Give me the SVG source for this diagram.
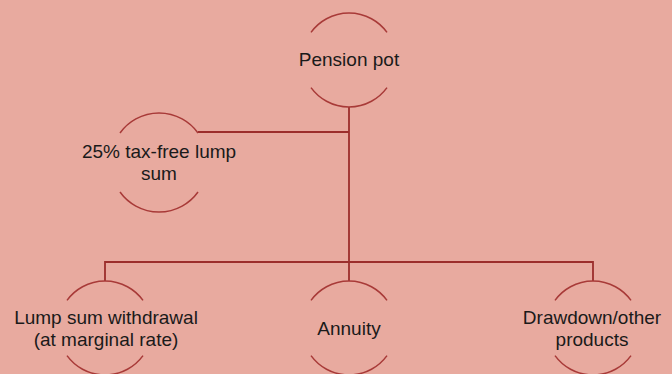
<svg xmlns="http://www.w3.org/2000/svg" width="672" height="374" viewBox="0 0 672 374">
<style>
.arc{fill:none;stroke:#A83A38;stroke-width:1.5}
.con{fill:none;stroke:#9C2E2C;stroke-width:1.8}
text{font-family:"Liberation Sans",Arial,sans-serif;font-size:19px;fill:#1a1a1a;text-anchor:middle}
</style>
<rect width="672" height="374" fill="#E8AA9F"/>
<g id="connectors">
<path class="con" d="M349 107 V262"/>
<path class="con" d="M198 132 H349"/>
<path class="con" d="M105 281 V262 H593 V281"/>
<path class="con" d="M349 262 V281"/>
</g>
<g id="pension-pot">
<path class="arc" d="M311 32.4 A47 47 0 0 1 387 32.4"/>
<path class="arc" d="M311 87.6 A47 47 0 0 0 387 87.6"/>
<text x="349" y="65.5">Pension pot</text>
</g>
<g id="tax-free">
<path class="arc" d="M120 133 A48 48 0 0 1 198 133"/>
<path class="arc" d="M120 192 A48 48 0 0 0 198 192"/>
<text x="159" y="158">25% tax-free lump</text>
<text x="159" y="179.5">sum</text>
</g>
<g id="lump-sum">
<path class="arc" d="M67 300.4 A47 47 0 0 1 143 300.4"/>
<path class="arc" d="M67 355.6 A47 47 0 0 0 143 355.6"/>
<text x="106" y="324">Lump sum withdrawal</text>
<text x="106" y="345.5">(at marginal rate)</text>
</g>
<g id="annuity">
<path class="arc" d="M311 300.4 A47 47 0 0 1 387 300.4"/>
<path class="arc" d="M311 355.6 A47 47 0 0 0 387 355.6"/>
<text x="349" y="334.5">Annuity</text>
</g>
<g id="drawdown">
<path class="arc" d="M555 300.4 A47 47 0 0 1 631 300.4"/>
<path class="arc" d="M555 355.6 A47 47 0 0 0 631 355.6"/>
<text x="592" y="324">Drawdown/other</text>
<text x="592" y="345.5">products</text>
</g>
</svg>
